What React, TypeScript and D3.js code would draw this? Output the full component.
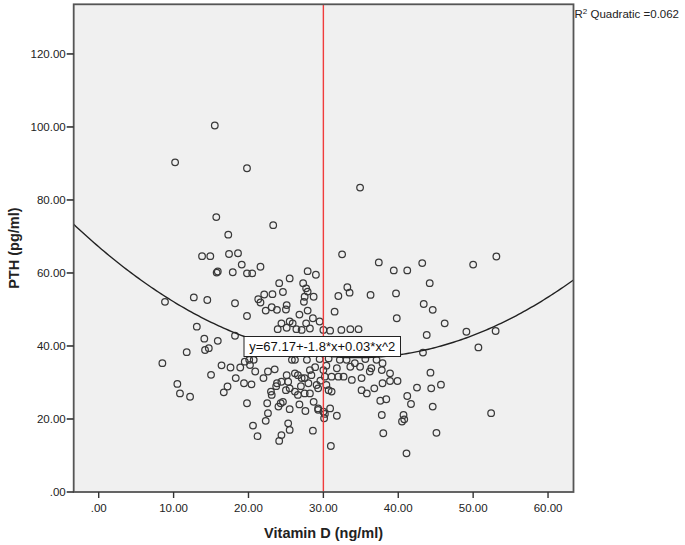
import React from "react";
import * as d3 from "d3";

// Observations: [Vitamin D (ng/ml), PTH (pg/ml)]
const scatter: [number, number][] = [
  [15.5, 100.4], [10.2, 90.3], [19.8, 88.7], [34.9, 83.4], [15.7, 75.3], [23.3, 73.1], [17.3, 70.5], [13.8, 64.6], [14.9, 64.6], [17.4, 65.2],
  [18.6, 65.4], [19.1, 62.3], [21.6, 61.7], [15.75, 60.1], [15.9, 60.4], [17.9, 60.2], [19.8, 59.9], [20.5, 59.9], [27.9, 60.5], [29.0, 59.5],
  [32.5, 65.1], [37.4, 62.9], [43.2, 62.7], [39.4, 60.7], [41.2, 60.7], [53.1, 64.5], [50.0, 62.3], [44.2, 57.2], [24.1, 57.2], [25.5, 58.5],
  [27.3, 57.2], [24.6, 54.8], [22.1, 54.1], [23.2, 54.2], [33.2, 56.1], [33.5, 54.6], [32.0, 53.7], [36.3, 54.0], [39.7, 54.4], [27.5, 53.5],
  [27.7, 55.8], [27.9, 54.9], [28.7, 53.5], [27.4, 52.1], [8.85, 52.1], [12.7, 53.3], [14.5, 52.6], [18.2, 51.7], [21.3, 52.8], [21.6, 51.9],
  [22.3, 49.7], [23.1, 50.6], [23.8, 49.9], [25.1, 51.2], [25.0, 50.0], [26.8, 48.6], [27.9, 49.7], [27.7, 46.2], [28.6, 47.6], [29.5, 46.7],
  [31.5, 49.4], [43.4, 51.5], [44.6, 49.9], [39.8, 47.6], [46.2, 46.2], [19.8, 48.2], [13.1, 45.3], [14.1, 42.0], [15.9, 41.4], [14.2, 38.9],
  [14.7, 39.4], [11.75, 38.3], [18.2, 42.8], [23.9, 44.6], [24.4, 46.2], [25.1, 45.0], [25.9, 46.2], [26.4, 44.6], [27.1, 44.4], [25.5, 46.7],
  [28.2, 44.8], [30.0, 44.4], [30.9, 44.2], [32.4, 44.4], [33.6, 44.6], [34.7, 44.6], [43.8, 43.0], [49.1, 43.9], [53.0, 44.1], [50.7, 39.6],
  [43.3, 38.2], [20.1, 36.2], [20.7, 36.2], [19.5, 35.7], [18.9, 34.1], [20.2, 34.8], [16.4, 34.7], [17.6, 34.1], [8.5, 35.3], [15.0, 32.1],
  [18.3, 31.2], [19.4, 29.8], [20.4, 29.5], [20.9, 33.0], [22.0, 31.2], [22.6, 33.0], [23.5, 33.6], [25.8, 36.2], [26.2, 36.2], [27.8, 36.2],
  [29.5, 36.4], [30.7, 36.6], [32.2, 36.2], [33.1, 36.2], [34.2, 35.3], [35.6, 36.4], [37.1, 36.2], [37.9, 35.3], [28.2, 33.4], [30.0, 33.4],
  [31.8, 33.9], [33.6, 34.3], [34.9, 34.3], [36.4, 33.9], [37.8, 33.4], [38.9, 32.5], [27.1, 31.2], [27.5, 31.2], [30.2, 31.6], [31.1, 31.6],
  [32.0, 31.6], [32.7, 31.6], [33.8, 30.7], [35.1, 31.2], [36.2, 33.0], [35.1, 27.9], [35.8, 27.0], [36.8, 28.4], [37.9, 29.8], [38.9, 30.4],
  [39.9, 30.4], [42.5, 28.6], [41.2, 26.3], [41.7, 24.1], [37.6, 25.0], [38.4, 25.4], [37.8, 21.1], [40.7, 21.1], [40.8, 19.9], [40.5, 19.3],
  [38.0, 16.1], [41.1, 10.6], [31.0, 12.6], [28.6, 16.8], [31.8, 20.9], [30.9, 22.9], [30.1, 20.2], [30.2, 21.4], [29.1, 29.3], [29.3, 28.4],
  [30.4, 29.3], [30.7, 27.9], [31.1, 27.5], [27.5, 27.0], [28.2, 27.0], [28.7, 24.7], [29.3, 22.9], [29.3, 22.5], [30.0, 22.0], [10.5, 29.6],
  [10.85, 27.0], [12.2, 26.1], [17.2, 28.9], [16.7, 27.3], [23.0, 27.5], [23.1, 26.6], [23.7, 29.0], [19.8, 24.3], [22.5, 24.3], [24.0, 23.4],
  [22.6, 21.6], [22.3, 19.5], [20.6, 18.2], [21.2, 15.3], [23.8, 29.8], [24.4, 30.2], [25.1, 32.0], [26.2, 32.5], [26.6, 32.0], [25.3, 30.2],
  [25.5, 28.4], [26.2, 27.5], [26.6, 26.6], [25.0, 27.9], [24.3, 24.3], [24.6, 24.7], [25.5, 22.7], [25.3, 18.8], [25.5, 17.0], [24.4, 15.6],
  [24.1, 14.0], [44.3, 32.7], [44.4, 28.4], [45.7, 29.4], [44.6, 23.4], [52.4, 21.6], [45.1, 16.2], [28.9, 34.2], [30.4, 34.6], [28.4, 32.0],
  [29.6, 30.5], [27.0, 29.0], [28.0, 29.8], [26.8, 24.0], [27.6, 22.2],
];

const xTicks = [0, 10, 20, 30, 40, 50, 60];
const yTicks = [0, 20, 40, 60, 80, 100, 120];
const xDomain: [number, number] = [-3.34, 63.4];
const yDomain: [number, number] = [0, 133.6];
// Quadratic fit (unrounded coefficients) and its label
const fitCoef = { a: 67.17, b: -1.76, c: 0.0255 };
const fitLabel = "y=67.17+-1.8*x+0.03*x^2";
const r2Value = "0.062";
const cutoff = 30;
const xTitle = "Vitamin D (ng/ml)";
const yTitle = "PTH (pg/ml)";

const W = 685;
const H = 545;
const plot = { left: 73.7, right: 573.5, top: 4.3, bottom: 492 };
const FONT = "'Liberation Sans', Arial, sans-serif";

const fmt = (v: number) => d3.format(".2f")(v).replace(/^0\./, ".");

export default function App() {
  const x = d3.scaleLinear().domain(xDomain).range([plot.left, plot.right]);
  const y = d3.scaleLinear().domain(yDomain).range([plot.bottom, plot.top]);

  const curveXs = d3.range(xDomain[0], xDomain[1] + 0.001, (xDomain[1] - xDomain[0]) / 200);
  const line = d3
    .line<number>()
    .x((v) => x(v))
    .y((v) => y(fitCoef.a + fitCoef.b * v + fitCoef.c * v * v));

  const boxX = 244;
  const boxY = 336.5;
  const boxW = 156.5;
  const boxH = 20;

  return (
    <svg
      width={W}
      height={H}
      style={{ position: "absolute", left: 0, top: 0, background: "#fff" }}
      fontFamily={FONT}
    >
      <defs>
        <clipPath id="plotClip">
          <rect x={plot.left} y={plot.top} width={plot.right - plot.left} height={plot.bottom - plot.top} />
        </clipPath>
      </defs>
      <rect
        x={plot.left}
        y={plot.top}
        width={plot.right - plot.left}
        height={plot.bottom - plot.top}
        fill="#f0f0f0"
      />
      <g clipPath="url(#plotClip)">
        {scatter.map(([vx, vy], i) => (
          <circle key={i} cx={x(vx)} cy={y(vy)} r={3.3} fill="none" stroke="#3a3a3a" strokeWidth={1.25} />
        ))}
        <path d={line(curveXs) || ""} fill="none" stroke="#222" strokeWidth={1.4} />
        <line x1={x(cutoff)} x2={x(cutoff)} y1={plot.top} y2={plot.bottom} stroke="#f03c3c" strokeWidth={1.4} />
      </g>
      <rect
        x={plot.left}
        y={plot.top}
        width={plot.right - plot.left}
        height={plot.bottom - plot.top}
        fill="none"
        stroke="#555"
        strokeWidth={1.8}
      />
      {yTicks.map((t) => (
        <g key={"y" + t}>
          <line x1={plot.left - 7} x2={plot.left} y1={y(t)} y2={y(t)} stroke="#333" strokeWidth={1.6} />
          <text x={plot.left - 8} y={y(t)} dy="0.35em" textAnchor="end" fontSize={11.5} fill="#222">
            {fmt(t)}
          </text>
        </g>
      ))}
      {xTicks.map((t) => (
        <g key={"x" + t}>
          <line x1={x(t)} x2={x(t)} y1={plot.bottom} y2={plot.bottom + 6} stroke="#333" strokeWidth={1.4} />
          <text x={x(t)} y={plot.bottom + 20} textAnchor="middle" fontSize={11.5} fill="#222">
            {fmt(t)}
          </text>
        </g>
      ))}
      <text
        x={(plot.left + plot.right) / 2}
        y={538}
        textAnchor="middle"
        fontSize={14.5}
        fontWeight="bold"
        fill="#222"
      >
        {xTitle}
      </text>
      <text
        transform={`translate(19, ${(plot.top + plot.bottom) / 2}) rotate(-90)`}
        textAnchor="middle"
        fontSize={14.5}
        fontWeight="bold"
        fill="#222"
      >
        {yTitle}
      </text>
      <text x={plot.right + 1} y={18} fontSize={11.5} fill="#222">
        R<tspan fontSize={8} dy={-4}>2</tspan>
        <tspan dy={4}> Quadratic ={r2Value}</tspan>
      </text>
      <rect x={boxX} y={boxY} width={boxW} height={boxH} fill="#fff" stroke="#222" strokeWidth={1} />
      <text x={boxX + boxW / 2} y={boxY + boxH / 2} dy="0.36em" textAnchor="middle" fontSize={13} fill="#111">
        {fitLabel}
      </text>
    </svg>
  );
}
